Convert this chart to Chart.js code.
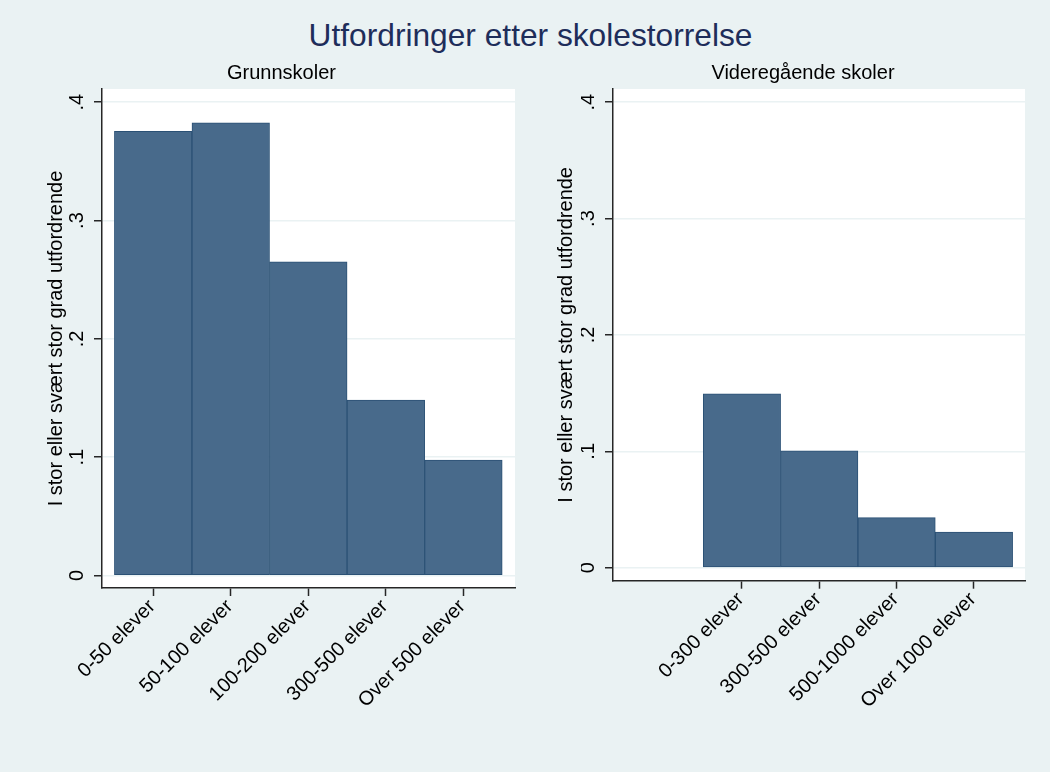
<!DOCTYPE html>
<html>
<head>
<meta charset="utf-8">
<script src="https://cdn.jsdelivr.net/npm/chart.js@4/dist/chart.umd.min.js"></script>
<style>
  html, body { margin:0; padding:0; width:1050px; height:772px; overflow:hidden; background:#eaf2f3; font-family:"Liberation Sans", Arial, sans-serif; }
  #mainTitle { position:absolute; left:0; top:19px; width:1050px; padding-left:11px; box-sizing:border-box; text-align:center; font-size:31.7px; line-height:32px; color:#1e2d5a; white-space:nowrap; }
  canvas { position:absolute; top:0; }
  #c1 { left:0; }
  #c2 { left:525px; }
</style>
</head>
<body>
<div id="mainTitle">Utfordringer etter skolestorrelse</div>
<canvas id="c1" width="525" height="772" style="width:525px;height:772px"></canvas>
<canvas id="c2" width="525" height="772" style="width:525px;height:772px"></canvas>
<script>
// ---- data ----
const yAxisTitle = 'I stor eller svært stor grad utfordrende';
const grunnTitle = 'Grunnskoler';
const grunnCategories = ['0-50 elever', '50-100 elever', '100-200 elever', '300-500 elever', 'Over 500 elever'];
const grunnValues = [0.3755, 0.3826, 0.2652, 0.1482, 0.0975];
const vgsTitle = 'Videregående skoler';
// first slot is empty in the original figure
const vgsCategories = ['', '0-300 elever', '300-500 elever', '500-1000 elever', 'Over 1000 elever'];
const vgsValues = [null, 0.1494, 0.1004, 0.0430, 0.0305];
const yTickValues = [0, 0.1, 0.2, 0.3, 0.4];
const yTickLabels = ['0', '.1', '.2', '.3', '.4'];

// ---- styles ----
const FONT = '"Liberation Sans", Arial, sans-serif';
const BAR_FILL = '#486a8b';
const BAR_EDGE = '#2b5175';
const AXIS = '#262626';
const GRID = '#eaf2f3';

Chart.defaults.font.family = FONT;
Chart.defaults.font.size = 20;
Chart.defaults.color = '#000';

const plotBg = {
  id: 'plotBg',
  beforeDraw(chart) {
    const { ctx, chartArea: a } = chart;
    ctx.save();
    ctx.fillStyle = '#ffffff';
    ctx.fillRect(a.left, a.top, a.right - a.left, a.bottom - a.top);
    ctx.restore();
  }
};

function makePanel(id, subtitle, categories, values, L) {
  return new Chart(document.getElementById(id), {
    type: 'bar',
    data: {
      datasets: [{
        data: values.map((v, i) => ({ x: i, y: v })),
        backgroundColor: BAR_FILL,
        borderColor: BAR_EDGE,
        borderWidth: 1,
        borderSkipped: false,
        barPercentage: 1,
        categoryPercentage: 1
      }]
    },
    options: {
      responsive: false,
      animation: false,
      layout: { padding: { left: L.padL, right: L.padR, top: 0, bottom: 0 } },
      plugins: {
        legend: { display: false },
        tooltip: { enabled: false },
        title: {
          display: true,
          text: subtitle,
          color: '#000',
          font: { size: 20, weight: 'normal', lineHeight: 1.2 },
          padding: { top: 61, bottom: 4 }
        }
      },
      scales: {
        x: {
          type: 'linear',
          min: L.xMin,
          max: L.xMax,
          offset: false,
          afterBuildTicks: s => {
            s.ticks = categories.map((c, i) => ({ value: i })).filter((t, i) => categories[i] !== '');
          },
          afterFit: s => { s.height = L.xHeight; },
          ticks: {
            autoSkip: false,
            minRotation: 45,
            maxRotation: 45,
            padding: -1,
            labelOffset: -1,
            color: '#000',
            font: { size: 20 },
            callback: v => categories[v]
          },
          grid: { display: true, drawOnChartArea: false, offset: false, tickLength: 8, tickColor: AXIS, tickWidth: 1.5 },
          border: { display: true, color: AXIS, width: 1.5 }
        },
        y: {
          min: L.yMin,
          max: L.yMax,
          afterBuildTicks: s => { s.ticks = yTickValues.map(v => ({ value: v })); },
          afterFit: s => { s.width = L.yWidth; },
          ticks: {
            autoSkip: false,
            minRotation: 90,
            maxRotation: 90,
            crossAlign: 'center',
            padding: L.yTickPad,
            color: '#000',
            font: { size: 20 },
            callback: v => yTickLabels[yTickValues.indexOf(v)]
          },
          grid: { color: GRID, lineWidth: 1.5, tickLength: 8, tickColor: AXIS, tickWidth: 1.5 },
          border: { display: true, color: AXIS, width: 1.5 },
          title: {
            display: true,
            text: yAxisTitle,
            color: '#000',
            font: { size: 20, lineHeight: 1.2 },
            padding: { top: L.yTitlePad, bottom: 0 }
          }
        }
      }
    },
    plugins: [plotBg]
  });
}

makePanel('c1', grunnTitle, grunnCategories, grunnValues, {
  padL: 48, padR: 10, yWidth: 54, xHeight: 184,
  xMin: -0.66, xMax: 4.665, yMin: -0.0106, yMax: 0.4112,
  yTickPad: 7.7, yTitlePad: -4
});
makePanel('c2', vgsTitle, vgsCategories, vgsValues, {
  padL: 56, padR: 25, yWidth: 32, xHeight: 191.3,
  xMin: -0.667, xMax: 4.66, yMin: -0.0112, yMax: 0.41135,
  yTickPad: 8, yTitlePad: -26.7
});
</script>
</body>
</html>
